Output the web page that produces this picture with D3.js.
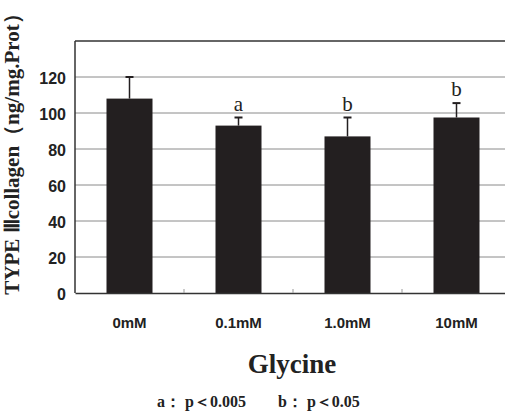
<!DOCTYPE html>
<html>
<head>
<meta charset="utf-8">
<script src="https://cdn.jsdelivr.net/npm/d3@7"></script>
<style>
  body { margin: 0; background: #fff; }
  svg { display: block; }
</style>
</head>
<body>
<svg id="chart" width="505" height="411"></svg>
<script>
(function () {
    'use strict';

    // data
    var categories = ["0mM", "0.1mM", "1.0mM", "10mM"];
    var means = [108, 93, 87, 97.5];
    var errors = [12, 4.5, 10.5, 8];
    var marks = ["", "a", "b", "b"];
    var yTicks = [0, 20, 40, 60, 80, 100, 120];

    var left = 75, top = 41, bottom = 293, right = 511;
    var serif = "'Liberation Serif', 'Times New Roman', serif",
        sans = "'Liberation Sans', Arial, sans-serif";

    var svg = d3.select("#chart");

    var x = d3.scaleBand()
        .domain(categories)
        .range([left, right])
        .paddingInner(0.578)
        .paddingOuter(0.289);

    var y = d3.scaleLinear()
        .domain([0, 140])
        .range([bottom, top]);

    // gridlines
    svg.selectAll("line.grid")
        .data(yTicks.slice(1))
        .enter()
        .append("line")
        .attr("class", "grid")
        .attr("x1", left)
        .attr("x2", right)
        .attr("y1", function (d) { return y(d); })
        .attr("y2", function (d) { return y(d); })
        .attr("stroke", "#8a8a8a")
        .attr("stroke-width", 1);

    // frame: top, left
    svg.append("line")
        .attr("x1", left).attr("x2", right)
        .attr("y1", y(140)).attr("y2", y(140))
        .attr("stroke", "#333").attr("stroke-width", 1.5);
    svg.append("line")
        .attr("x1", left).attr("x2", left)
        .attr("y1", y(140)).attr("y2", y(0))
        .attr("stroke", "#333").attr("stroke-width", 1.5);

    // y tick labels
    var yAxis = svg.append("g")
        .attr("transform", "translate(" + (left - 9) + ",0)")
        .call(d3.axisLeft(y).tickValues(yTicks).tickSize(0).tickPadding(0));
    yAxis.select(".domain").remove();
    yAxis.selectAll("text")
        .attr("dy", "0.4em")
        .attr("font-family", sans)
        .attr("font-weight", "bold")
        .attr("font-size", 16)
        .attr("fill", "#222");

    // bars
    svg.selectAll("rect.bar")
        .data(categories)
        .enter()
        .append("rect")
        .attr("class", "bar")
        .attr("x", function (d) { return x(d); })
        .attr("width", x.bandwidth())
        .attr("y", function (d, i) { return y(means[i]); })
        .attr("height", function (d, i) { return y(0) - y(means[i]); })
        .attr("fill", "#231f20");

    // error bars
    var err = svg.selectAll("g.err")
        .data(categories)
        .enter()
        .append("g")
        .attr("class", "err");
    err.append("line")
        .attr("x1", function (d) { return x(d) + x.bandwidth() / 2; })
        .attr("x2", function (d) { return x(d) + x.bandwidth() / 2; })
        .attr("y1", function (d, i) { return y(means[i]); })
        .attr("y2", function (d, i) { return y(means[i] + errors[i]); })
        .attr("stroke", "#231f20")
        .attr("stroke-width", 1.5);
    err.append("line")
        .attr("x1", function (d) { return x(d) + x.bandwidth() / 2 - 4; })
        .attr("x2", function (d) { return x(d) + x.bandwidth() / 2 + 4; })
        .attr("y1", function (d, i) { return y(means[i] + errors[i]); })
        .attr("y2", function (d, i) { return y(means[i] + errors[i]); })
        .attr("stroke", "#231f20")
        .attr("stroke-width", 2);

    // significance letters
    svg.selectAll("text.mark")
        .data(categories)
        .enter()
        .append("text")
        .attr("class", "mark")
        .attr("x", function (d) { return x(d) + x.bandwidth() / 2; })
        .attr("y", function (d, i) { return y(means[i] + errors[i]) - 7; })
        .attr("text-anchor", "middle")
        .attr("font-family", serif)
        .attr("font-size", 21)
        .attr("fill", "#222")
        .text(function (d, i) { return marks[i]; });

    // x axis with small ticks between groups
    var xAxis = svg.append("g")
        .attr("transform", "translate(0," + bottom + ")")
        .call(d3.axisBottom(x).tickSize(0).tickPadding(24));
    xAxis.select(".domain")
        .attr("stroke", "#333")
        .attr("stroke-width", 1.5);
    xAxis.selectAll("text")
        .attr("font-family", sans)
        .attr("font-weight", "bold")
        .attr("font-size", 15)
        .attr("fill", "#222");
    xAxis.selectAll("line.sep")
        .data(categories.slice(1))
        .enter()
        .append("line")
        .attr("class", "sep")
        .attr("x1", function (d) { return x(d) - x.step() * x.paddingInner() / 2; })
        .attr("x2", function (d) { return x(d) - x.step() * x.paddingInner() / 2; })
        .attr("y1", 0)
        .attr("y2", -4)
        .attr("stroke", "#999");

    // axis titles
    svg.append("text")
        .attr("transform", "translate(19,149) rotate(-90)")
        .attr("text-anchor", "middle")
        .attr("font-family", serif)
        .attr("font-weight", "bold")
        .attr("font-size", 21)
        .attr("fill", "#222")
        .text("TYPE Ⅲcollagen（ng/mg.Prot）");

    svg.append("text")
        .attr("x", 292)
        .attr("y", 373)
        .attr("text-anchor", "middle")
        .attr("font-family", serif)
        .attr("font-weight", "bold")
        .attr("font-size", 27)
        .attr("fill", "#222")
        .text("Glycine");

    // footnote
    svg.append("text")
        .attr("x", 157)
        .attr("y", 407)
        .attr("font-family", serif)
        .attr("font-weight", "bold")
        .attr("font-size", 16)
        .attr("fill", "#222")
        .text("a： p＜0.005");
    svg.append("text")
        .attr("x", 278)
        .attr("y", 407)
        .attr("font-family", serif)
        .attr("font-weight", "bold")
        .attr("font-size", 16)
        .attr("fill", "#222")
        .text("b： p＜0.05");
})();
</script>
</body>
</html>
